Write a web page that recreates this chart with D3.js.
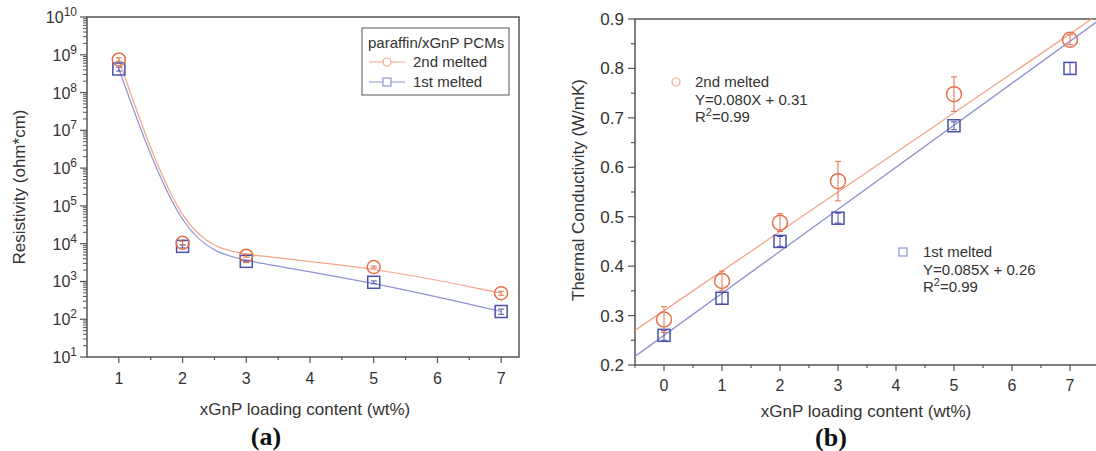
<!DOCTYPE html>
<html>
<head>
<meta charset="utf-8">
<script src="https://cdn.jsdelivr.net/npm/d3@7"></script>
<style>
  body { margin: 0; background: #fff; }
  svg { display: block; font-family: "Liberation Sans", Arial, sans-serif; }
</style>
</head>
<body>
<svg id="fig" width="1096" height="451"></svg>
<script>
// DATA
// (a) resistivity vs loading
const resX = [1, 2, 3, 5, 7];
const res2nd = [7.5e8, 1.05e4, 4.8e3, 2.4e3, 4.9e2];
const res2ndErr = [8e7, 1.2e3, 4e2, 1.5e2, 6e1];
const res1st = [4.2e8, 8.5e3, 3.4e3, 9.5e2, 1.6e2];
const res1stErr = [5e7, 8e2, 2e2, 8e1, 2.5e1];
const resTicksX = [1, 2, 3, 4, 5, 6, 7];
const resDecades = [1, 2, 3, 4, 5, 6, 7, 8, 9, 10];

// (b) thermal conductivity vs loading
const tcX = [0, 1, 2, 3, 5, 7];
const tc2nd = [0.292, 0.370, 0.488, 0.572, 0.748, 0.858];
const tc2ndErr = [0.026, 0.02, 0.018, 0.04, 0.035, 0.01];
const tc1st = [0.260, 0.335, 0.450, 0.497, 0.684, 0.800];
const tc1stErr = [0.01, 0.012, 0.01, 0.01, 0.008, 0.012];
const fit2nd = { slope: 0.080, intercept: 0.31 };
const fit1st = { slope: 0.085, intercept: 0.26 };
const tcTicksY = [0.2, 0.3, 0.4, 0.5, 0.6, 0.7, 0.8, 0.9];
const tcTicksX = [0, 1, 2, 3, 4, 5, 6, 7];

// colours
const orange = "#e5714b", orangeLine = "#f2a58b";
const blue = "#4a50ad", blueLine = "#8f93d3";
const axisCol = "#555";
const textCol = "#333";

const svg = d3.select("#fig");

// helpers
function drawSquare(g, cx, cy, s, col) {
	g.append("rect")
		.attr("x", cx - s / 2).attr("y", cy - s / 2)
		.attr("width", s).attr("height", s)
		.attr("fill", "none").attr("stroke", col).attr("stroke-width", 1.5);
}
function drawCircle(g, cx, cy, r, col) {
	g.append("circle")
		.attr("cx", cx).attr("cy", cy).attr("r", r)
		.attr("fill", "none").attr("stroke", col).attr("stroke-width", 1.5);
}
function drawErr(g, cx, y0, y1, col) {
	g.append("line").attr("x1", cx).attr("x2", cx).attr("y1", y0).attr("y2", y1)
		.attr("stroke", col).attr("stroke-width", 1);
	[y0, y1].forEach(y => g.append("line")
		.attr("x1", cx - 3).attr("x2", cx + 3).attr("y1", y).attr("y2", y)
		.attr("stroke", col).attr("stroke-width", 1));
}

// ---------------- PANEL (a) ----------------
const xa = d3.scaleLinear().domain([0.5, 7.28]).range([87, 519]);
const ya = d3.scaleLog().domain([10, 1e10]).range([357, 17]);
const ga = svg.append("g");

// frame
ga.append("rect")
	.attr("x", xa.range()[0]).attr("y", ya.range()[1])
	.attr("width", xa.range()[1] - xa.range()[0])
	.attr("height", ya.range()[0] - ya.range()[1])
	.attr("fill", "none").attr("stroke", axisCol).attr("stroke-width", 1.5);

// x ticks
resTicksX.forEach(t => {
	ga.append("line").attr("x1", xa(t)).attr("x2", xa(t))
		.attr("y1", 357).attr("y2", 363).attr("stroke", axisCol).attr("stroke-width", 1.2);
	ga.append("text").attr("x", xa(t)).attr("y", 384)
		.attr("text-anchor", "middle").attr("font-size", 16).attr("fill", textCol).text(t);
	if (t < 7) ga.append("line").attr("x1", xa(t + 0.5)).attr("x2", xa(t + 0.5))
		.attr("y1", 357).attr("y2", 360).attr("stroke", axisCol).attr("stroke-width", 1.2);
});

// y ticks (log)
resDecades.forEach(n => {
	const y = ya(Math.pow(10, n));
	ga.append("line").attr("x1", 80).attr("x2", 87).attr("y1", y).attr("y2", y)
		.attr("stroke", axisCol).attr("stroke-width", 1.2);
	const t = ga.append("text").attr("x", 77).attr("y", y + 6)
		.attr("text-anchor", "end").attr("font-size", 16).attr("fill", textCol);
	t.append("tspan").text("10");
	t.append("tspan").attr("dy", -7).attr("font-size", 12).text(n);
	if (n < 10) {
		for (let m = 2; m <= 9; m++) {
			const ym = ya(m * Math.pow(10, n));
			ga.append("line").attr("x1", 83).attr("x2", 87).attr("y1", ym).attr("y2", ym)
				.attr("stroke", axisCol).attr("stroke-width", 1);
		}
	}
});

// curves
const lineA = d3.line().x(d => xa(d[0])).y(d => ya(d[1])).curve(d3.curveBasis);
ga.append("path").attr("d", lineA(resX.map((x, i) => [x, res2nd[i]])))
	.attr("fill", "none").attr("stroke", orangeLine).attr("stroke-width", 1.2);
ga.append("path").attr("d", lineA(resX.map((x, i) => [x, res1st[i]])))
	.attr("fill", "none").attr("stroke", blueLine).attr("stroke-width", 1.2);

// markers
resX.forEach((x, i) => {
	drawErr(ga, xa(x), ya(res1st[i] - res1stErr[i]), ya(res1st[i] + res1stErr[i]), blue);
	drawSquare(ga, xa(x), ya(res1st[i]), 12, blue);
	drawErr(ga, xa(x), ya(res2nd[i] - res2ndErr[i]), ya(res2nd[i] + res2ndErr[i]), orange);
	drawCircle(ga, xa(x), ya(res2nd[i]), 6.5, orange);
});

// legend
const lg = ga.append("g");
lg.append("rect").attr("x", 362).attr("y", 28).attr("width", 147).attr("height", 67)
	.attr("fill", "#fff").attr("stroke", axisCol).attr("stroke-width", 1);
lg.append("text").attr("x", 368).attr("y", 48).attr("font-size", 15).attr("fill", textCol)
	.text("paraffin/xGnP PCMs");
[["2nd melted", orangeLine, "c", 67], ["1st melted", blueLine, "s", 87]].forEach(([lab, col, sh, y]) => {
	lg.append("line").attr("x1", 369).attr("x2", 405).attr("y1", y - 5).attr("y2", y - 5)
		.attr("stroke", col).attr("stroke-width", 1.2);
	if (sh === "c") {
		lg.append("circle").attr("cx", 387).attr("cy", y - 5).attr("r", 4)
			.attr("fill", "#fff").attr("stroke", col).attr("stroke-width", 1.2);
	} else {
		lg.append("rect").attr("x", 383).attr("y", y - 9).attr("width", 8).attr("height", 8)
			.attr("fill", "#fff").attr("stroke", col).attr("stroke-width", 1.2);
	}
	lg.append("text").attr("x", 413).attr("y", y).attr("font-size", 15).attr("fill", textCol).text(lab);
});

// titles
ga.append("text").attr("transform", "translate(25,187) rotate(-90)")
	.attr("text-anchor", "middle").attr("font-size", 17).attr("fill", textCol)
	.text("Resistivity (ohm*cm)");
ga.append("text").attr("x", 305).attr("y", 415)
	.attr("text-anchor", "middle").attr("font-size", 17).attr("fill", textCol)
	.text("xGnP loading content (wt%)");
ga.append("text").attr("x", 266).attr("y", 445)
	.attr("text-anchor", "middle").attr("font-size", 26).attr("font-weight", "bold")
	.attr("font-family", "Liberation Serif, Times New Roman, serif").attr("fill", "#111")
	.text("(a)");

// ---------------- PANEL (b) ----------------
const xb = d3.scaleLinear().domain([-0.5, 7.5]).range([635, 1099]);
const yb = d3.scaleLinear().domain([0.2, 0.9]).range([365, 19]);
const gb = svg.append("g");

svg.append("defs").append("clipPath").attr("id", "clipb")
	.append("rect").attr("x", 635).attr("y", 19).attr("width", 464).attr("height", 346);

gb.append("rect")
	.attr("x", 635).attr("y", 19).attr("width", 464).attr("height", 346)
	.attr("fill", "none").attr("stroke", axisCol).attr("stroke-width", 1.5);

tcTicksX.forEach(t => {
	gb.append("line").attr("x1", xb(t)).attr("x2", xb(t))
		.attr("y1", 365).attr("y2", 371).attr("stroke", axisCol).attr("stroke-width", 1.2);
	gb.append("text").attr("x", xb(t)).attr("y", 391)
		.attr("text-anchor", "middle").attr("font-size", 16).attr("fill", textCol).text(t);
	gb.append("line").attr("x1", xb(t + 0.5)).attr("x2", xb(t + 0.5))
		.attr("y1", 365).attr("y2", 368).attr("stroke", axisCol).attr("stroke-width", 1.2);
});
gb.append("line").attr("x1", xb(-0.5)).attr("x2", xb(-0.5))
	.attr("y1", 365).attr("y2", 368).attr("stroke", axisCol);

tcTicksY.forEach(t => {
	gb.append("line").attr("x1", 628).attr("x2", 635).attr("y1", yb(t)).attr("y2", yb(t))
		.attr("stroke", axisCol).attr("stroke-width", 1.2);
	gb.append("text").attr("x", 624).attr("y", yb(t) + 6)
		.attr("text-anchor", "end").attr("font-size", 17).attr("fill", textCol).text(d3.format(".1f")(t));
	if (t < 0.9) gb.append("line").attr("x1", 631).attr("x2", 635)
		.attr("y1", yb(t + 0.05)).attr("y2", yb(t + 0.05))
		.attr("stroke", axisCol).attr("stroke-width", 1.2);
});

// fit lines
const fits = gb.append("g").attr("clip-path", "url(#clipb)");
[[fit2nd, orangeLine], [fit1st, blueLine]].forEach(([f, col]) => {
	const xs = xb.domain();
	fits.append("line")
		.attr("x1", xb(xs[0])).attr("y1", yb(f.slope * xs[0] + f.intercept))
		.attr("x2", xb(xs[1])).attr("y2", yb(f.slope * xs[1] + f.intercept))
		.attr("stroke", col).attr("stroke-width", 1.3);
});

tcX.forEach((x, i) => {
	drawErr(gb, xb(x), yb(tc1st[i] - tc1stErr[i]), yb(tc1st[i] + tc1stErr[i]), blue);
	drawSquare(gb, xb(x), yb(tc1st[i]), 12, blue);
	drawErr(gb, xb(x), yb(tc2nd[i] - tc2ndErr[i]), yb(tc2nd[i] + tc2ndErr[i]), orange);
	drawCircle(gb, xb(x), yb(tc2nd[i]), 7.5, orange);
});

// annotations
gb.append("circle").attr("cx", 676).attr("cy", 82).attr("r", 4)
	.attr("fill", "none").attr("stroke", orangeLine).attr("stroke-width", 1.2);
[["2nd melted", 87], ["Y=0.080X + 0.31", 105]].forEach(([s, y]) =>
	gb.append("text").attr("x", 695).attr("y", y).attr("font-size", 15).attr("fill", textCol).text(s));
let r2 = gb.append("text").attr("x", 695).attr("y", 122).attr("font-size", 15).attr("fill", textCol);
r2.append("tspan").text("R");
r2.append("tspan").attr("dy", -6).attr("font-size", 11).text("2");
r2.append("tspan").attr("dy", 6).text("=0.99");

gb.append("rect").attr("x", 899).attr("y", 248).attr("width", 8).attr("height", 8)
	.attr("fill", "none").attr("stroke", blueLine).attr("stroke-width", 1.2);
[["1st melted", 257], ["Y=0.085X + 0.26", 275]].forEach(([s, y]) =>
	gb.append("text").attr("x", 923).attr("y", y).attr("font-size", 15).attr("fill", textCol).text(s));
r2 = gb.append("text").attr("x", 923).attr("y", 292).attr("font-size", 15).attr("fill", textCol);
r2.append("tspan").text("R");
r2.append("tspan").attr("dy", -6).attr("font-size", 11).text("2");
r2.append("tspan").attr("dy", 6).text("=0.99");

gb.append("text").attr("transform", "translate(584,190) rotate(-90)")
	.attr("text-anchor", "middle").attr("font-size", 17).attr("fill", textCol)
	.text("Thermal Conductivity (W/mK)");
gb.append("text").attr("x", 866).attr("y", 417)
	.attr("text-anchor", "middle").attr("font-size", 17).attr("fill", textCol)
	.text("xGnP loading content (wt%)");
gb.append("text").attr("x", 831).attr("y", 446)
	.attr("text-anchor", "middle").attr("font-size", 26).attr("font-weight", "bold")
	.attr("font-family", "Liberation Serif, Times New Roman, serif").attr("fill", "#111")
	.text("(b)");
</script>
</body>
</html>
